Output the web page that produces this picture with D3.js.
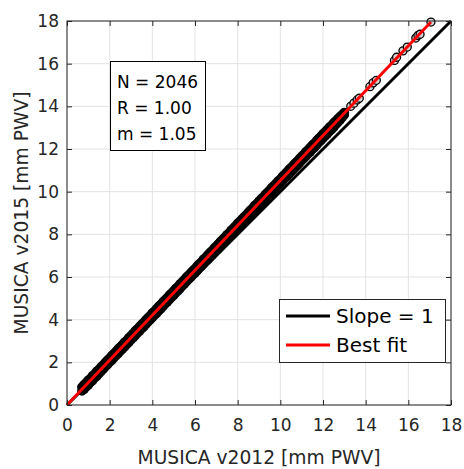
<!DOCTYPE html>
<html>
<head>
<meta charset="utf-8">
<script src="https://cdn.jsdelivr.net/npm/d3@7"></script>
<style>
  body { margin: 0; background: #fff; }
  text { font-family: "DejaVu Sans", sans-serif; }
</style>
</head>
<body>
<div class="chart"></div>
<script>
// Dense part of the scatter (v2012 PWV), read along the band's upper and lower sides
const bandX = [
  0.7,0.8,0.9,1.0,1.1,1.2,1.3,1.4,1.5,1.6,1.7,1.8,1.9,2.0,2.1,2.2,2.3,2.4,2.5,2.6,
  2.7,2.8,2.9,3.0,3.1,3.2,3.3,3.4,3.5,3.6,3.7,3.8,3.9,4.0,4.1,4.2,4.3,4.4,4.5,4.6,
  4.7,4.8,4.9,5.0,5.1,5.2,5.3,5.4,5.5,5.6,5.7,5.8,5.9,6.0,6.1,6.2,6.3,6.4,6.5,6.6,
  6.7,6.8,6.9,7.0,7.1,7.2,7.3,7.4,7.5,7.6,7.7,7.8,7.9,8.0,8.1,8.2,8.3,8.4,8.5,8.6,
  8.7,8.8,8.9,9.0,9.1,9.2,9.3,9.4,9.5,9.6,9.7,9.8,9.9,10.0,10.1,10.2,10.3,10.4,10.5,10.6,
  10.7,10.8,10.9,11.0,11.1,11.2,11.3,11.4,11.5,11.6,11.7,11.8,11.9,12.0,12.1,12.2,12.3,12.4,12.5,12.6,
  12.7,12.8,12.9,13.0
];
// v2015 PWV, upper side of band
const bandUpper = [
  0.84,0.95,1.05,1.16,1.25,1.37,1.46,1.58,1.67,1.79,1.88,2.00,2.10,2.19,2.31,2.41,2.51,2.63,2.72,2.83,
  2.94,3.03,3.15,3.25,3.35,3.47,3.56,3.67,3.78,3.87,3.99,4.09,4.19,4.31,4.40,4.51,4.62,4.71,4.83,4.93,
  5.03,5.15,5.24,5.35,5.46,5.55,5.67,5.77,5.87,5.99,6.08,6.19,6.30,6.39,6.51,6.61,6.71,6.83,6.92,7.03,
  7.14,7.23,7.35,7.45,7.55,7.67,7.76,7.87,7.98,8.07,8.19,8.29,8.39,8.51,8.60,8.71,8.82,8.91,9.03,9.13,
  9.23,9.35,9.44,9.55,9.66,9.75,9.87,9.97,10.07,10.19,10.28,10.39,10.50,10.59,10.71,10.81,10.91,11.03,11.12,11.23,
  11.34,11.43,11.55,11.65,11.75,11.87,11.96,12.07,12.18,12.27,12.39,12.49,12.59,12.71,12.80,12.91,13.02,13.11,13.22,13.31,
  13.42,13.52,13.61,13.71
];
// v2015 PWV, lower side of band
const bandLower = [
  0.66,0.74,0.85,0.94,1.06,1.15,1.27,1.36,1.47,1.58,1.68,1.80,1.89,2.01,2.10,2.21,2.32,2.41,2.53,2.62,
  2.73,2.84,2.94,3.06,3.15,3.26,3.37,3.46,3.58,3.67,3.78,3.90,3.99,4.10,4.21,4.30,4.42,4.51,4.62,4.74,
  4.83,4.94,5.05,5.14,5.26,5.35,5.46,5.58,5.67,5.78,5.89,5.98,6.10,6.19,6.30,6.42,6.51,6.62,6.73,6.82,
  6.94,7.03,7.14,7.26,7.35,7.46,7.57,7.66,7.78,7.87,7.98,8.10,8.19,8.30,8.41,8.50,8.62,8.71,8.82,8.94,
  9.03,9.14,9.25,9.34,9.46,9.55,9.66,9.78,9.87,9.98,10.09,10.18,10.30,10.39,10.50,10.62,10.71,10.82,10.93,11.02,
  11.14,11.23,11.34,11.46,11.55,11.66,11.77,11.86,11.98,12.07,12.18,12.30,12.39,12.50,12.61,12.70,12.82,12.91,13.02,13.14,
  13.25,13.36,13.48,13.60
];
// loose points above the band
const looseX = [13.30,13.45,13.60,13.70,14.20,14.35,14.50,15.35,15.45,15.75,15.95,16.35,16.45,16.55,17.06];
const looseY = [14.00,14.15,14.30,14.38,14.92,15.10,15.22,16.15,16.30,16.60,16.78,17.20,17.32,17.38,17.95];

const ticks = [0, 2, 4, 6, 8, 10, 12, 14, 16, 18];
const fitLine = [[0, 0], [17.06, 17.95]];
const oneLine = [[0, 0], [18, 18]];
const stats = ["N = 2046", "R = 1.00", "m = 1.05"];
const legendItems = [{ label: "Slope = 1", color: "#000" }, { label: "Best fit", color: "#ff0000" }];

const width = 464, height = 469;
const plotL = 67, plotR = 451, plotT = 21, plotB = 405;

const svg = d3.select(".chart").append("svg")
  .attr("width", width)
  .attr("height", height);

const x = d3.scaleLinear().domain([0, 18]).range([plotL, plotR]);
const y = d3.scaleLinear().domain([0, 18]).range([plotB, plotT]);

// grid
svg.append("g").selectAll("line").data(ticks).enter().append("line")
  .attr("x1", d => x(d)).attr("x2", d => x(d))
  .attr("y1", plotT).attr("y2", plotB)
  .attr("stroke", "#e3e3e3");
svg.append("g").selectAll("line").data(ticks).enter().append("line")
  .attr("y1", d => y(d)).attr("y2", d => y(d))
  .attr("x1", plotL).attr("x2", plotR)
  .attr("stroke", "#e3e3e3");

// scatter
const band = bandX.map((v, i) => [v, bandUpper[i]])
  .concat(bandX.map((v, i) => [v, bandLower[i]]));
const loose = looseX.map((v, i) => [v, looseY[i]]);

svg.append("g").selectAll("circle").data(band).enter().append("circle")
  .attr("cx", d => x(d[0]))
  .attr("cy", d => y(d[1]))
  .attr("r", 4.2)
  .attr("fill", "#000")
  .attr("stroke", "#000")
  .attr("stroke-width", 1.3);
svg.append("g").selectAll("circle").data(loose).enter().append("circle")
  .attr("cx", d => x(d[0]))
  .attr("cy", d => y(d[1]))
  .attr("r", 4)
  .attr("fill", "#d4d4d4")
  .attr("stroke", "#000")
  .attr("stroke-width", 1.3);

const line = d3.line().x(d => x(d[0])).y(d => y(d[1]));
svg.append("path").datum(oneLine).attr("d", line)
  .attr("stroke", "#000").attr("stroke-width", 3).attr("fill", "none");
svg.append("path").datum(fitLine).attr("d", line)
  .attr("stroke", "#ff0000").attr("stroke-width", 3).attr("fill", "none");

// axes, ticks inward on all sides
const styleAxis = g => {
  g.select(".domain").remove();
  g.selectAll(".tick line").attr("stroke", "#262626");
  g.selectAll(".tick text").attr("fill", "#262626").style("font-size", "17px")
    .style("font-family", "DejaVu Sans, sans-serif");
};
svg.append("g").attr("transform", `translate(0,${plotB})`)
  .call(d3.axisBottom(x).tickValues(ticks).tickSize(-5).tickPadding(14))
  .call(styleAxis);
svg.append("g").attr("transform", `translate(${plotL},0)`)
  .call(d3.axisLeft(y).tickValues(ticks).tickSize(-5).tickPadding(8))
  .call(styleAxis);
svg.append("g").attr("transform", `translate(0,${plotT})`)
  .call(d3.axisTop(x).tickValues(ticks).tickSize(-5).tickFormat(""))
  .call(styleAxis);
svg.append("g").attr("transform", `translate(${plotR},0)`)
  .call(d3.axisRight(y).tickValues(ticks).tickSize(-5).tickFormat(""))
  .call(styleAxis);

svg.append("rect")
  .attr("x", plotL).attr("y", plotT)
  .attr("width", plotR - plotL).attr("height", plotB - plotT)
  .attr("fill", "none").attr("stroke", "#262626").attr("stroke-width", 1);

// axis labels
svg.append("text")
  .attr("x", (plotL + plotR) / 2).attr("y", 464)
  .attr("text-anchor", "middle").attr("fill", "#262626")
  .style("font-size", "18.7px")
  .text("MUSICA v2012 [mm PWV]");
svg.append("text")
  .attr("transform", `translate(28,${(plotT + plotB) / 2}) rotate(-90)`)
  .attr("text-anchor", "middle").attr("fill", "#262626")
  .style("font-size", "18.7px")
  .text("MUSICA v2015 [mm PWV]");

// stats box
svg.append("rect")
  .attr("x", 110.5).attr("y", 61.5).attr("width", 95).attr("height", 89)
  .attr("fill", "#fff").attr("stroke", "#000");
svg.append("g").selectAll("text").data(stats).enter().append("text")
  .attr("x", 117).attr("y", (d, i) => 88 + i * 26)
  .style("font-size", "17px")
  .text(d => d);

// legend
svg.append("rect")
  .attr("x", 279.5).attr("y", 299.5).attr("width", 166).attr("height", 63)
  .attr("fill", "#fff").attr("stroke", "#262626");
const leg = svg.append("g").selectAll("g").data(legendItems).enter().append("g")
  .attr("transform", (d, i) => `translate(0,${316 + i * 29})`);
leg.append("line")
  .attr("x1", 286).attr("x2", 330)
  .attr("stroke", d => d.color).attr("stroke-width", 3);
leg.append("text")
  .attr("x", 336).attr("y", 7)
  .style("font-size", "20px")
  .text(d => d.label);
</script>
</body>
</html>
